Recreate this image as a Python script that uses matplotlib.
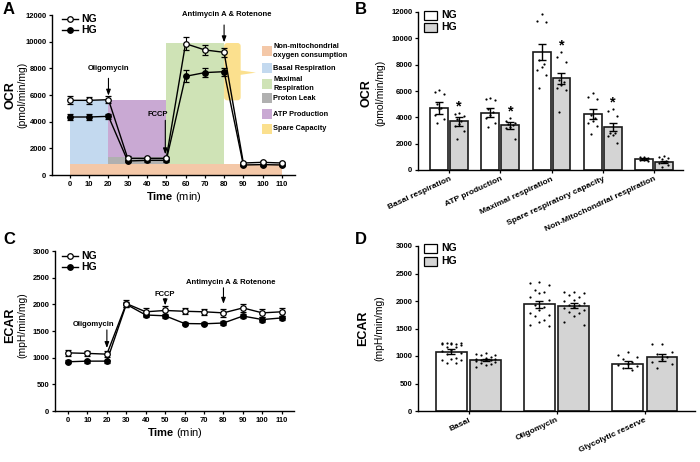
import matplotlib
matplotlib.use('Agg')
import matplotlib.pyplot as plt
import numpy as np
from matplotlib.lines import Line2D
from matplotlib.patches import Rectangle, FancyBboxPatch, Polygon

plt.rcParams['font.family'] = ['Liberation Sans', 'DejaVu Sans']
plt.rcParams['font.weight'] = 'bold'
plt.rcParams['mathtext.fontset'] = 'custom'
plt.rcParams['mathtext.rm'] = 'Liberation Sans'
plt.rcParams['mathtext.bf'] = 'Liberation Sans:bold'

W, H = 700, 462

# ---------------- data ----------------
time_min = [0, 10, 20, 30, 40, 50, 60, 70, 80, 90, 100, 110]

# panel A: OCR time course (pmol/min/mg)
ocr_ng = [5600, 5600, 5650, 1250, 1250, 1250, 9850, 9380, 9200, 900, 950, 900]
ocr_ng_err = [300, 250, 250, 150, 120, 120, 500, 350, 350, 100, 100, 100]
ocr_hg = [4350, 4350, 4400, 1050, 1100, 1100, 7400, 7680, 7750, 750, 780, 750]
ocr_hg_err = [200, 200, 200, 100, 100, 100, 450, 350, 300, 80, 80, 80]

# compartment levels for the shaded areas
nonmito_level = 800
leak_level = 1330
basal_level = 5600
maximal_level = 9900

region_names = ['Non-mitochondrial\noxygen consumption', 'Basal Respiration',
                'Maximal\nRespiration', 'Proton Leak', 'ATP Production', 'Spare Capacity']
region_colors = ['#f4c8a8', '#c3d9ef', '#cfe3b6', '#b0b0b0', '#c9a9d3', '#fbe08e']

# panel B: OCR parameters
ocr_cats = ['Basal respiration', 'ATP production', 'Maximal respiration',
            'Spare respiratory capacity', 'Non-Mitochondrial respiration']
ocr_bar_ng = [4700, 4350, 8950, 4220, 840]
ocr_bar_hg = [3700, 3380, 6950, 3260, 630]
ocr_sem_ng = [430, 340, 630, 380, 60]
ocr_sem_hg = [350, 270, 430, 330, 90]
ocr_pts_ng = [
    [6100, 5900, 5800, 5000, 4700, 4600, 4200, 3900, 3550],
    [5450, 5400, 5350, 4600, 4400, 4200, 3950, 3600, 3250],
    [11870, 11320, 11220, 8340, 8080, 7830, 7580, 7200, 6260],
    [5860, 5510, 5410, 4170, 3920, 3740, 3540, 3330, 2730],
    [1010, 950, 900, 860, 830, 780, 760, 700],
]
ocr_pts_hg = [
    [4350, 4250, 4100, 3850, 3700, 3500, 3350, 2950, 2350],
    [3950, 3750, 3600, 3500, 3400, 3300, 3200, 2350],
    [8970, 8590, 8210, 6820, 6700, 6440, 6260, 6110, 4420],
    [4600, 4470, 4090, 2830, 2780, 2650, 2600, 2070],
    [1060, 1000, 900, 800, 700, 600, 500, 400, 250],
]
ocr_signif = [True, True, True, True, False]

# panel C: ECAR time course (mpH/min/mg)
ecar_ng = [1090, 1080, 1066, 2015, 1860, 1885, 1870, 1860, 1840, 1933, 1840, 1860]
ecar_ng_err = [60, 50, 50, 70, 80, 90, 60, 60, 80, 70, 80, 70]
ecar_hg = [923, 935, 935, 2000, 1800, 1785, 1640, 1635, 1650, 1780, 1715, 1745]
ecar_hg_err = [30, 30, 30, 50, 40, 40, 30, 30, 30, 30, 40, 30]

# panel D: ECAR parameters
ecar_cats = ['Basal', 'Oligomycin', 'Glycolytic reserve']
ecar_bar_ng = [1080, 1940, 850]
ecar_bar_hg = [927, 1915, 975]
ecar_sem_ng = [45, 60, 60]
ecar_sem_hg = [25, 40, 65]
ecar_pts_ng = [
    [1245, 1240, 1235, 1230, 1225, 1215, 1210, 1200, 1170, 1160, 1110, 1100, 1050, 1040, 960, 950, 930, 920, 880, 870],
    [2350, 2320, 2290, 2200, 2170, 2140, 2080, 2020, 1930, 1900, 1840, 1780, 1750, 1720, 1660, 1620, 1560, 1540],
    [1080, 1020, 980, 940, 900, 860, 840, 810, 780, 750],
]
ecar_pts_hg = [
    [1050, 1045, 1020, 1010, 990, 960, 950, 940, 935, 930, 925, 910, 900, 880, 860, 830, 800],
    [2170, 2160, 2140, 2110, 2080, 2020, 2000, 1960, 1930, 1920, 1900, 1880, 1840, 1800, 1780, 1720, 1610, 1570],
    [1220, 1215, 1080, 1040, 990, 940, 900, 860, 790],
]


# ---------------- helpers ----------------
def px_rect(left, top, right, bottom):
    return [left / W, 1 - bottom / H, (right - left) / W, (bottom - top) / H]


def fpt(x, y):
    return x / W, 1 - y / H


def style_axes(ax):
    for s in ('top', 'right'):
        ax.spines[s].set_visible(False)
    for s in ('left', 'bottom'):
        ax.spines[s].set_linewidth(1.0)
    ax.tick_params(labelsize=5.5, width=0.9, length=2.5, pad=1.5)


def ylab(fig, x_big, x_small, yc, big, small):
    fig.text(*fpt(x_big, yc), big, rotation=90, ha='center', va='center', fontsize=9, fontweight='bold')
    fig.text(*fpt(x_small, yc), small, rotation=90, ha='center', va='center', fontsize=7.5, fontweight='normal')


def arrow(ax, x, y0, y1):
    ax.annotate('', xy=(x, y1), xytext=(x, y0),
                arrowprops=dict(arrowstyle='-|>,head_width=0.13,head_length=0.35', color='k', lw=0.8,
                                shrinkA=0, shrinkB=0), annotation_clip=False)


def line_legend(fig, x0, ys):
    for y, face, lab in zip(ys, ['white', 'black'], ['NG', 'HG']):
        a, b = fpt(x0, y)
        c, _ = fpt(x0 + 16, y)
        fig.add_artist(Line2D([a, c], [b, b], color='k', lw=1, transform=fig.transFigure))
        fig.add_artist(Line2D([(a + c) / 2], [b], marker='o', ms=4, mfc=face, mec='k', mew=0.9,
                              transform=fig.transFigure))
        fig.text(*fpt(x0 + 19, y), lab, fontsize=7.5, fontweight='bold', va='center')


def box_legend(fig, x0, ys):
    for y, face, lab in zip(ys, ['white', '#d4d4d4'], ['NG', 'HG']):
        a, b = fpt(x0, y + 4.5)
        fig.add_artist(Rectangle((a, b), 13 / W, 9 / H, transform=fig.transFigure,
                                 facecolor=face, edgecolor='k', lw=0.9))
        fig.text(*fpt(x0 + 17, y), lab, fontsize=7.5, fontweight='bold', va='center')


def time_course(ax, ng, ng_err, hg, hg_err):
    ax.errorbar(time_min, ng, yerr=ng_err, fmt='-o', color='k', mfc='white', mec='k', ms=4, mew=0.9,
                lw=1, elinewidth=0.8, capsize=2, capthick=0.8, zorder=5)
    ax.errorbar(time_min, hg, yerr=hg_err, fmt='-o', color='k', mfc='k', mec='k', ms=4, mew=0.9,
                lw=1, elinewidth=0.8, capsize=2, capthick=0.8, zorder=4)
    ax.set_xticks(time_min)
    ax.set_xlabel(r'$\mathbf{Time}$ (min)', fontsize=8, fontweight='normal', labelpad=2)


def bar_panel(ax, cats, ng, hg, sem_ng, sem_hg, pts_ng, pts_hg, spread):
    x = np.arange(len(cats))
    w = 0.35
    off = 0.195
    ax.bar(x - off, ng, w, color='white', edgecolor='#1a1a1a', lw=1.2, zorder=1)
    ax.bar(x + off, hg, w, color='#d4d4d4', edgecolor='#1a1a1a', lw=1.2, zorder=1)
    pattern = np.array([0, -1, 1, -0.5, 0.5])
    for i in range(len(cats)):
        for xc, vals in ((x[i] - off, pts_ng[i]), (x[i] + off, pts_hg[i])):
            v = np.sort(vals)[::-1]
            jit = np.tile(pattern, len(v))[:len(v)] * spread
            ax.scatter(xc + jit, v, s=2.5, c='k', zorder=3, linewidths=0)
    ax.errorbar(x - off, ng, yerr=sem_ng, fmt='none', ecolor='k', elinewidth=1, capsize=2.6,
                capthick=1, zorder=4)
    ax.errorbar(x + off, hg, yerr=sem_hg, fmt='none', ecolor='k', elinewidth=1, capsize=2.6,
                capthick=1, zorder=4)
    ax.set_xticks(x)
    ax.set_xticklabels(cats, rotation=25, ha='right', va='top', rotation_mode='anchor', fontsize=6)
    return x, off


fig = plt.figure(figsize=(7, 4.62), dpi=100)

# ---------------- A ----------------
axA = fig.add_axes(px_rect(52, 15, 295, 175))
style_axes(axA)
axA.set_xlim(-9.3, 116.8)
axA.set_ylim(0, 12000)
axA.set_yticks(range(0, 12001, 2000))
t0, t20, t50, t80, t110 = time_min[0], time_min[2], time_min[5], time_min[8], time_min[-1]
axA.add_patch(Rectangle((t0, 0), t110 - t0, nonmito_level, color=region_colors[0], lw=0, zorder=0))
axA.add_patch(Rectangle((t0, nonmito_level), t20 - t0, basal_level - nonmito_level,
                        color=region_colors[1], lw=0, zorder=0))
axA.add_patch(Rectangle((t50, nonmito_level), t80 - t50, maximal_level - nonmito_level,
                        color=region_colors[2], lw=0, zorder=0))
axA.add_patch(Rectangle((t20, nonmito_level), t50 - t20, leak_level - nonmito_level,
                        color=region_colors[3], lw=0, zorder=0))
axA.add_patch(Rectangle((t20, leak_level), t50 - t20, basal_level - leak_level,
                        color=region_colors[4], lw=0, zorder=0))
axA.add_patch(FancyBboxPatch((t80, basal_level), 8.6, maximal_level - basal_level,
                             boxstyle='round,pad=0,rounding_size=1.6', mutation_aspect=145,
                             color=region_colors[5], lw=0, zorder=0))
axA.add_patch(Polygon([(88, 7850), (96.5, 7680), (88, 7500)], closed=True, color=region_colors[5],
                      lw=0, zorder=0, clip_on=False))
time_course(axA, ocr_ng, ocr_ng_err, ocr_hg, ocr_hg_err)

axA.text(20, 7950, 'Oligomycin', ha='center', va='center', fontsize=5.5)
arrow(axA, 20, 7250, 5950)
axA.text(51, 4500, 'FCCP', ha='right', va='center', fontsize=5.5)
arrow(axA, 49.5, 4100, 1550)
axA.text(81.5, 12050, 'Antimycin A & Rotenone', ha='center', va='center', fontsize=5.5, clip_on=False)
arrow(axA, 80, 11250, 9950)

ylab(fig, 10, 22, 95, 'OCR', '(pmol/min/mg)')
line_legend(fig, 62, [19, 30])

leg_y = [51, 68, 84, 98, 114, 129]
for y, name, col in zip(leg_y, region_names, region_colors):
    a, b = fpt(262, y + 5)
    fig.add_artist(Rectangle((a, b), 10 / W, 10 / H, transform=fig.transFigure, color=col, lw=0))
    fig.text(*fpt(273, y), name, fontsize=5.3, fontweight='bold', va='center', linespacing=1.25)

# ---------------- B ----------------
axB = fig.add_axes(px_rect(418, 12, 683, 170))
style_axes(axB)
xb, offb = bar_panel(axB, ocr_cats, ocr_bar_ng, ocr_bar_hg, ocr_sem_ng, ocr_sem_hg,
                     ocr_pts_ng, ocr_pts_hg, 0.085)
axB.set_xlim(-0.61, 4.57)
axB.set_ylim(0, 12000)
axB.set_yticks(range(0, 12001, 2000))
for i, sig in enumerate(ocr_signif):
    if sig:
        axB.text(xb[i] + offb, max(ocr_pts_hg[i]) + 500, '*', ha='center', va='center', fontsize=10.5)
ylab(fig, 367, 380, 93, 'OCR', '(pmol/min/mg)')
box_legend(fig, 424, [15, 27])

# ---------------- C ----------------
axC = fig.add_axes(px_rect(55, 251, 294, 411))
style_axes(axC)
axC.set_xlim(-6.7, 116.3)
axC.set_ylim(0, 3000)
axC.set_yticks(range(0, 3001, 500))
time_course(axC, ecar_ng, ecar_ng_err, ecar_hg, ecar_hg_err)
axC.text(13, 1630, 'Oligomycin', ha='center', va='center', fontsize=5.5)
arrow(axC, 20, 1520, 1180)
axC.text(50, 2180, 'FCCP', ha='center', va='center', fontsize=5.5)
arrow(axC, 50, 2110, 1980)
axC.text(83.6, 2400, 'Antimycin A & Rotenone', ha='center', va='center', fontsize=5.5)
arrow(axC, 80, 2310, 2010)
ylab(fig, 10, 22, 325, 'ECAR', '(mpH/min/mg)')
line_legend(fig, 62, [256, 267])

# ---------------- D ----------------
axD = fig.add_axes(px_rect(418, 246, 695, 411))
style_axes(axD)
bar_panel(axD, ecar_cats, ecar_bar_ng, ecar_bar_hg, ecar_sem_ng, ecar_sem_hg,
          ecar_pts_ng, ecar_pts_hg, 0.11)
axD.set_xlim(-0.574, 2.57)
axD.set_ylim(0, 3000)
axD.set_yticks(range(0, 3001, 500))
ylab(fig, 363, 379, 328, 'ECAR', '(mpH/min/mg)')
box_legend(fig, 424, [248, 261])

for lab, x, y in (('A', 3, 9), ('B', 355, 9), ('C', 3, 240), ('D', 355, 240)):
    fig.text(*fpt(x, y), lab, fontsize=12, fontweight='bold', va='center', ha='left')

fig.savefig('out.png', dpi=100)
